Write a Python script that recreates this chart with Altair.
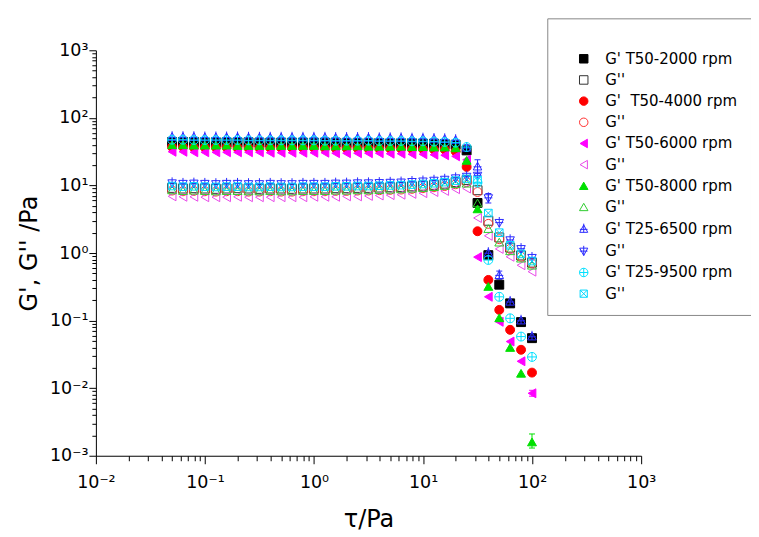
import altair as alt
import pandas as pd

# shear stress (Pa)
tau = [0.05, 0.0629, 0.0792, 0.0998, 0.126, 0.158, 0.199, 0.251, 0.316, 0.397,
       0.5, 0.629, 0.792, 0.998, 1.26, 1.58, 1.99, 2.51, 3.16, 3.97,
       5.0, 6.29, 7.92, 9.98, 12.6, 15.8, 19.9, 25.1, 31.6, 39.7,
       50.0, 62.9, 79.2, 99.8]

gp_2000 = [44, 44, 44, 43.5, 43.5, 43.5, 43.5, 43.5, 43, 43, 43, 43, 43, 43, 43, 43,
           42.5, 42.5, 42.5, 42.5, 42, 42, 42, 41.5, 41.5, 41,
           40, 33, 5.5, 0.93, 0.34, 0.18, 0.095, 0.055]
gpp_2000 = [9.2, 9.0, 9.1, 9.0, 8.9, 9.0, 9.1, 9.0, 8.9, 9.0, 9.0, 8.9, 9.0, 9.0, 9.0, 9.1,
            9.1, 9.2, 9.2, 9.3, 9.4, 9.5, 9.7, 9.9, 10.2, 10.6,
            11.2, 12.0, 8.5, 3.0, 1.7, 1.2, 0.92, 0.72]
gp_4000 = [37, 37, 36.5, 36.5, 36.5, 36.5, 36, 36, 36, 36, 36, 36, 36, 36, 35.5, 35.5,
           35.5, 35.5, 35, 35, 35, 35, 34.5, 34.5, 34, 34,
           32, 18.8, 2.1, 0.40, 0.144, 0.073, 0.037, 0.017]
gpp_4000 = [8.4, 8.2, 8.3, 8.2, 8.1, 8.2, 8.2, 8.1, 8.1, 8.2, 8.1, 8.1, 8.2, 8.2, 8.2, 8.3,
            8.3, 8.4, 8.4, 8.5, 8.6, 8.7, 8.9, 9.1, 9.4, 9.8,
            10.4, 11.2, 8.0, 2.7, 1.6, 1.15, 0.88, 0.70]
gp_6000 = [31.5, 31.5, 31, 31, 31, 31, 31, 31, 31, 30.5, 30.5, 30.5, 30.5, 30.5, 30.5, 30,
           30, 30, 30, 30, 29.5, 29.5, 29, 29, 28.5, 28,
           27, 24, 0.87, 0.225, 0.096, 0.049, 0.025, 0.0084]
gpp_6000 = [6.9, 6.8, 6.8, 6.7, 6.7, 6.7, 6.8, 6.7, 6.7, 6.7, 6.7, 6.7, 6.7, 6.8, 6.8, 6.8,
            6.9, 6.9, 7.0, 7.1, 7.2, 7.3, 7.5, 7.7, 8.0, 8.3,
            8.8, 9.0, 3.3, 1.8, 1.15, 0.88, 0.66, 0.53]
gp_8000 = [40, 40, 39.5, 39.5, 39.5, 39.5, 39, 39, 39, 39, 39, 39, 39, 39, 38.5, 38.5,
           38.5, 38.5, 38, 38, 38, 38, 37.5, 37.5, 37, 37,
           36, 23.5, 4.5, 0.32, 0.11, 0.040, 0.0166, 0.0016]
gpp_8000 = [8.6, 8.4, 8.5, 8.4, 8.3, 8.4, 8.4, 8.3, 8.3, 8.4, 8.3, 8.3, 8.4, 8.4, 8.4, 8.5,
            8.5, 8.6, 8.6, 8.7, 8.8, 8.9, 9.1, 9.3, 9.6, 10.0,
            10.6, 10.8, 5.5, 2.3, 1.45, 1.08, 0.84, 0.66]
gp_6500 = [52, 52, 52, 51.5, 51.5, 51.5, 51.5, 51, 51, 51, 51, 51, 51, 51, 51, 50.5,
           50.5, 50.5, 50.5, 50, 50, 50, 49.5, 49.5, 49, 48.5,
           47, 36, 19, 1.0, 0.47, 0.19, 0.10, 0.058]
gpp_6500 = [10.8, 10.6, 10.7, 10.6, 10.5, 10.6, 10.6, 10.5, 10.5, 10.6, 10.5, 10.5, 10.6, 10.6, 10.6, 10.7,
            10.7, 10.8, 10.8, 10.9, 11.0, 11.1, 11.3, 11.5, 11.8, 12.2,
            12.8, 13.5, 14.0, 6.5, 2.8, 1.55, 1.15, 0.85]
gp_9500 = [47.5, 47.5, 47, 47, 47, 47, 47, 46.5, 46.5, 46.5, 46.5, 46.5, 46.5, 46.5, 46, 46,
           46, 46, 46, 45.5, 45.5, 45.5, 45, 45, 44.5, 44,
           43, 37, 11, 0.79, 0.225, 0.108, 0.058, 0.029]
gpp_9500 = [9.8, 9.6, 9.7, 9.6, 9.5, 9.6, 9.6, 9.5, 9.5, 9.6, 9.5, 9.5, 9.6, 9.6, 9.6, 9.7,
            9.7, 9.8, 9.8, 9.9, 10.0, 10.1, 10.3, 10.5, 10.8, 11.2,
            11.8, 12.5, 12.0, 3.9, 2.0, 1.3, 0.97, 0.76]

series_keys = ["G' T50-2000 rpm", "G'' T50-2000 rpm",
               "G'\u00a0 T50-4000 rpm", "G'' T50-4000 rpm",
               "G' T50-6000 rpm", "G'' T50-6000 rpm",
               "G' T50-8000 rpm", "G'' T50-8000 rpm",
               "G' T25-6500 rpm", "G'' T25-6500 rpm",
               "G' T25-9500 rpm", "G'' T25-9500 rpm"]
series_values = [gp_2000, gpp_2000, gp_4000, gpp_4000, gp_6000, gpp_6000,
                 gp_8000, gpp_8000, gp_6500, gpp_6500, gp_9500, gpp_9500]

# error bars (visible ones)
err_key = ["G' T25-6500 rpm", "G' T25-6500 rpm", "G'' T25-6500 rpm", "G' T25-6500 rpm",
           "G' T50-8000 rpm", "G' T50-6000 rpm", "G' T50-2000 rpm", "G' T50-2000 rpm"]
err_x = [25.1, 31.6, 39.7, 50.0, 99.8, 99.8, 62.9, 79.2]
err_lo = [32, 15, 5.5, 0.41, 0.0013, 0.0076, 0.16, 0.085]
err_hi = [40, 24, 7.6, 0.54, 0.0021, 0.0093, 0.20, 0.106]

x_decades = [0.01, 0.1, 1, 10, 100, 1000]
x_decade_labels = ["10⁻²", "10⁻¹", "10⁰", "10¹", "10²", "10³"]
y_decades = [0.001, 0.01, 0.1, 1, 10, 100, 1000]
y_decade_labels = ["10⁻³", "10⁻²", "10⁻¹", "10⁰", "10¹", "10²", "10³"]

for s in series_values:
    assert len(s) == len(tau)

rows = []
for k, vals in zip(series_keys, series_values):
    for t, v in zip(tau, vals):
        rows.append({"tau": t, "G": v, "series": k})
df = pd.DataFrame(rows)
err_df = pd.DataFrame({"series": err_key, "tau": err_x, "lo": err_lo, "hi": err_hi})

tri_up_plus = "M0,-1L0.95,0.75L-0.95,0.75Z M0,-1.3L0,0.75 M-0.9,0.05L0.9,0.05"
tri_down_plus = "M0,1L0.95,-0.75L-0.95,-0.75Z M0,1L0,-1.3 M-0.9,-0.05L0.9,-0.05"
circ_plus = "M-1,0A1,1,0,1,1,1,0A1,1,0,1,1,-1,0Z M-1,0L1,0 M0,-1L0,1"
sq_x = "M-0.85,-0.85L0.85,-0.85L0.85,0.85L-0.85,0.85Z M-0.85,-0.85L0.85,0.85 M0.85,-0.85L-0.85,0.85"

shapes = ["square", "square", "circle", "circle", "triangle-left", "triangle-left",
          "triangle-up", "triangle-up", tri_up_plus, tri_down_plus, circ_plus, sq_x]
strokes = ["#000000", "#333333", "#ff0000", "#ff3030", "#ff00ff", "#e848e8",
           "#00e000", "#30cc30", "#2a2aff", "#2a2aff", "#00e0ff", "#00d8ff"]
fills = ["#000000", "transparent", "#ff0000", "transparent", "#ff00ff", "transparent",
         "#00e000", "transparent", "transparent", "transparent", "transparent", "transparent"]


def label_expr(vals, texts):
    e = ""
    for v, t in zip(vals, texts):
        e += f'abs(datum.value - {v}) < {v * 1e-4} ? "{t}" : '
    return e + '""'


major_test = "abs(log(datum.value)/LN10 - round(log(datum.value)/LN10)) < 0.001"
x_ticks = [m * 10 ** k for k in range(-2, 3) for m in range(1, 10)] + [1000]
y_ticks = [m * 10 ** k for k in range(-3, 3) for m in range(1, 10)] + [1000]

xaxis = alt.Axis(values=x_ticks, labelExpr=label_expr(x_decades, x_decade_labels),
                 tickSize={"condition": {"test": major_test, "value": 8}, "value": 5},
                 grid=False, domainColor="black", tickColor="black", labelColor="black",
                 labelFontSize=17.5, labelPadding=10, labelFlush=False,
                 title="τ/Pa", titleFontSize=24, titleFontWeight="normal", titleColor="black",
                 titleX=273, titleY=64, titleBaseline="middle")
yaxis = alt.Axis(values=y_ticks, labelExpr=label_expr(y_decades, y_decade_labels),
                 tickSize={"condition": {"test": major_test, "value": 7}, "value": 4},
                 grid=False, domainColor="black", tickColor="black", labelColor="black",
                 labelFontSize=17.5, labelPadding=1, labelFlush=False,
                 title="G', G'' /Pa", titleFontSize=24, titleFontWeight="normal", titleColor="black",
                 titleX=-66, titleY=203, titleAngle=-90, titleAlign="center", titleBaseline="middle")

leg = alt.Legend(title=" ", titleFontSize=8, titlePadding=12,
                 orient="none", legendX=452, legendY=-32,
                 labelExpr='indexof(datum.label, "G\'\'") == 0 ? "G\'\'" : datum.label',
                 labelFontSize=15, labelColor="black", labelOffset=14, symbolOffset=16,
                 symbolSize=72, symbolStrokeWidth=1, rowPadding=5.2, padding=13,
                 strokeColor="#888888", fillColor="white", labelLimit=300)

xs = alt.Scale(type="log", domain=[0.01, 1000])
ys = alt.Scale(type="log", domain=[0.001, 1000])
stroke_scale = alt.Scale(domain=series_keys, range=strokes)

points = alt.Chart(df).mark_point(size=80, strokeWidth=1, opacity=1).encode(
    x=alt.X("tau:Q", scale=xs, axis=xaxis),
    y=alt.Y("G:Q", scale=ys, axis=yaxis),
    shape=alt.Shape("series:N", scale=alt.Scale(domain=series_keys, range=shapes), legend=leg),
    stroke=alt.Stroke("series:N", scale=stroke_scale, legend=leg),
    fill=alt.Fill("series:N", scale=alt.Scale(domain=series_keys, range=fills), legend=leg),
)

ebar = alt.Chart(err_df).mark_rule(strokeWidth=1).encode(
    x=alt.X("tau:Q", scale=xs), y=alt.Y("lo:Q", scale=ys), y2="hi:Q",
    stroke=alt.Stroke("series:N", scale=stroke_scale, legend=leg))
ecap_lo = alt.Chart(err_df).mark_point(shape="stroke", size=36, strokeWidth=1, opacity=1).encode(
    x=alt.X("tau:Q", scale=xs), y=alt.Y("lo:Q", scale=ys),
    stroke=alt.Stroke("series:N", scale=stroke_scale, legend=leg))
ecap_hi = alt.Chart(err_df).mark_point(shape="stroke", size=36, strokeWidth=1, opacity=1).encode(
    x=alt.X("tau:Q", scale=xs), y=alt.Y("hi:Q", scale=ys),
    stroke=alt.Stroke("series:N", scale=stroke_scale, legend=leg))

chart = alt.layer(ebar, ecap_lo, ecap_hi, points).properties(
    width=546, height=406,
    autosize=alt.AutoSizeParams(type="none"),
    padding={"left": 88, "top": 42, "right": 110, "bottom": 76},
).configure(font="DejaVu Sans").configure_view(strokeWidth=0)

chart.save("out.html", embed_options={"renderer": "svg", "actions": False})
